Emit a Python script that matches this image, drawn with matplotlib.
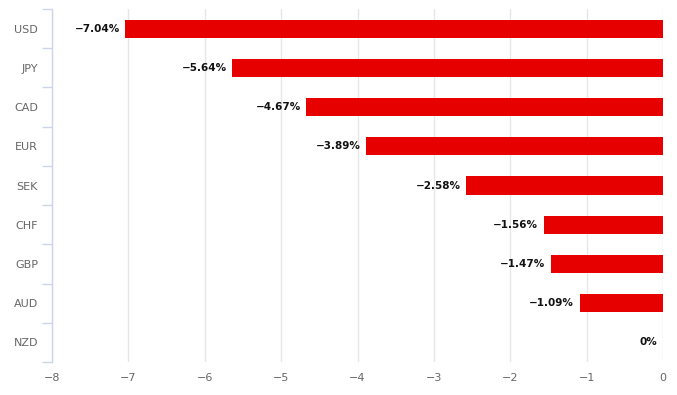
import matplotlib
matplotlib.use("Agg")
import matplotlib.pyplot as plt
import numpy as np

# 통화별 변화율
currencies = ["USD", "JPY", "CAD", "EUR", "SEK", "CHF", "GBP", "AUD", "NZD"]
changes = [-7.04, -5.64, -4.67, -3.89, -2.58, -1.56, -1.47, -1.09, 0.0]
xticks = [-8, -7, -6, -5, -4, -3, -2, -1, 0]

plt.rcParams['font.family'] = 'DejaVu Sans'
plt.rcParams['axes.unicode_minus'] = True

fig = plt.figure(figsize=(6.77, 3.95), dpi=100)
ax = fig.add_axes([52/677, 33/395, (663-52)/677, (362-9)/395])

y = np.arange(len(currencies))
ax.barh(y, changes, height=0.46, color="#e60000", zorder=3)

for yi, v in zip(y, changes):
    txt = "0%" if v == 0 else f"\u2212{abs(v):.2f}%"
    ax.annotate(txt, (v, yi), xytext=(-4, 0), textcoords="offset points",
                ha="right", va="center", fontsize=7.5, fontweight="bold",
                color="#111111", zorder=4)

ax.set_xlim(-8, 0)
ax.set_ylim(len(currencies) - 0.5, -0.5)
ax.set_xticks(xticks)
ax.set_xticklabels([("\u2212" + str(abs(t))) if t < 0 else str(t) for t in xticks])
ax.set_yticks(y)
ax.set_yticklabels(currencies)
ax.set_yticks(np.arange(-0.5, len(currencies), 1), minor=True)

ax.grid(axis="x", color="#e6e6e6", linewidth=1, zorder=0)
for s in ["top", "right", "bottom"]:
    ax.spines[s].set_visible(False)
ax.spines["left"].set_color("#ccd6eb")
ax.spines["left"].set_linewidth(1)

ax.tick_params(axis="y", which="major", length=0, pad=10, labelsize=8, labelcolor="#666666")
ax.tick_params(axis="y", which="minor", length=7, color="#ccd6eb", width=1)
ax.tick_params(axis="x", length=0, pad=8, labelsize=8, labelcolor="#666666")

fig.savefig("out.png", dpi=100)
